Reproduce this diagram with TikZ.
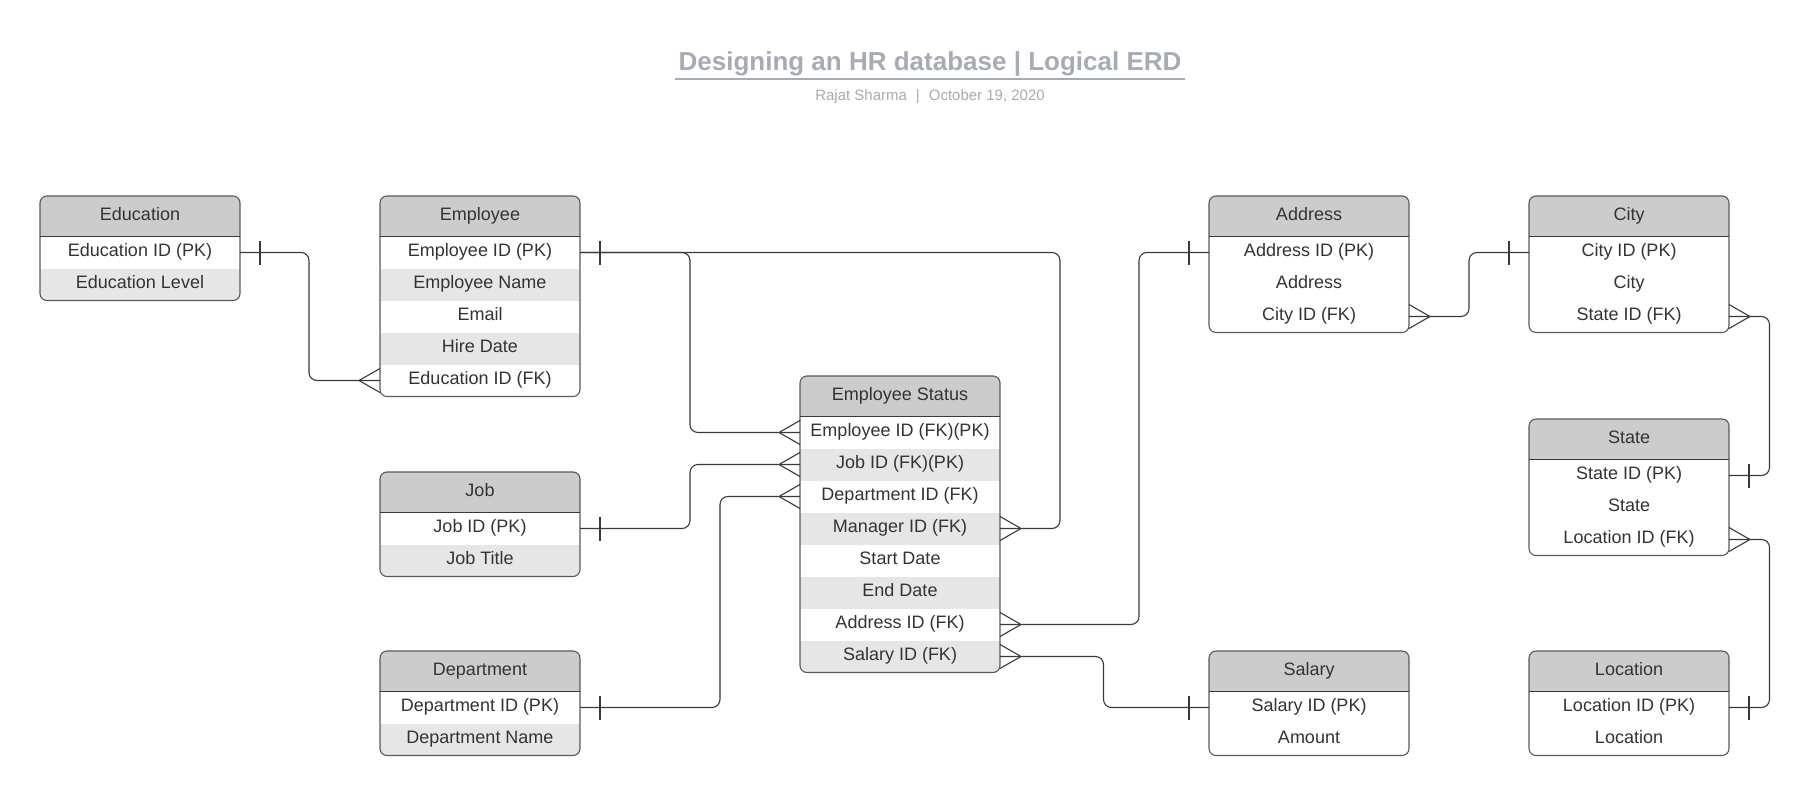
\documentclass[tikz,border=0pt]{standalone}
\usepackage{fontspec}
\setmainfont{Liberation Sans}
\usetikzlibrary{calc}
\definecolor{hdrgray}{HTML}{CCCCCC}
\definecolor{altgray}{HTML}{E6E6E6}
\definecolor{txt}{HTML}{333333}
\definecolor{edgec}{HTML}{5A5A5A}
\definecolor{linec}{HTML}{3A3A3A}
\definecolor{titlec}{HTML}{A7ABB4}
\tikzset{
  hdr/.style={anchor=north west, minimum width=200pt, minimum height=40.5pt, inner sep=0pt, outer sep=0pt, fill=hdrgray, text=txt, text height=13pt, text depth=4.5pt, font=\fontsize{18}{20}\selectfont},
  rowbox/.style={anchor=north west, minimum width=200pt, minimum height=32pt, inner sep=0pt, outer sep=0pt, text=txt, text height=13pt, text depth=5.5pt, font=\fontsize{18}{20}\selectfont},
  border/.style={draw=edgec, line width=1.1pt, rounded corners=7pt},
  sep/.style={draw=linec, line width=1.1pt},
  conn/.style={draw=linec, line width=1.1pt, rounded corners=8pt},
  tick/.style={draw=linec, line width=1.1pt},
  titlest/.style={text=titlec, font=\fontsize{26}{30}\selectfont\bfseries, inner sep=0pt},
  subst/.style={text=titlec, font=\fontsize{15}{18}\selectfont, inner sep=0pt},
}
\newcommand\entity[6]{% name, x, y, nrows, title, rows
  \begin{scope}
    \clip[rounded corners=7pt] (#2,#3) rectangle ++(200,{40.5+#4*32});
    \node[hdr] (#1) at (#2,#3) {#5};
    \foreach \t/\f [count=\i] in {#6} {
      \node[rowbox, fill=\f] (#1-\i) at (#2,{#3+40.5+(\i-1)*32}) {\t};
    }
  \end{scope}
  \draw[border] (#2,#3) rectangle ++(200,{40.5+#4*32});
  \draw[sep] (#1.south west) -- (#1.south east);
}
\newcommand\one[2]{\draw[tick] ([xshift=#2*20pt, yshift=-12pt]#1) -- ([xshift=#2*20pt, yshift=12pt]#1);}
\newcommand\many[2]{\draw[tick] ([yshift=12pt]#1) -- ([xshift=#2*21pt]#1) -- ([yshift=-12pt]#1);}
\begin{document}
\begin{tikzpicture}[x=1pt, y=-1pt]
\useasboundingbox (0,0) rectangle (1810,795);
\fill[white] (0,0) rectangle (1810,795);

\node[titlest, anchor=base] (title) at (930,70) {Designing an HR database | Logical ERD};
\draw[titlec, line width=1.6pt] ([xshift=-3pt, yshift=-9pt]title.base west) -- ([xshift=3pt, yshift=-9pt]title.base east);
\node[subst, anchor=base] (sub) at (930,100) {Rajat Sharma\hspace{9pt}|\hspace{9pt}October 19, 2020};

\entity{edu}{40}{196}{2}{Education}{Education ID (PK)/white, Education Level/altgray}
\entity{emp}{380}{196}{5}{Employee}{Employee ID (PK)/white, Employee Name/altgray, Email/white, Hire Date/altgray, Education ID (FK)/white}
\entity{job}{380}{472}{2}{Job}{Job ID (PK)/white, Job Title/altgray}
\entity{dep}{380}{651}{2}{Department}{Department ID (PK)/white, Department Name/altgray}
\entity{es}{800}{376}{8}{Employee Status}{Employee ID (FK)(PK)/white, Job ID (FK)(PK)/altgray, Department ID (FK)/white, Manager ID (FK)/altgray, Start Date/white, End Date/altgray, Address ID (FK)/white, Salary ID (FK)/altgray}
\entity{addr}{1209}{196}{3}{Address}{Address ID (PK)/white, Address/white, City ID (FK)/white}
\entity{city}{1529}{196}{3}{City}{City ID (PK)/white, City/white, State ID (FK)/white}
\entity{st}{1529}{419}{3}{State}{State ID (PK)/white, State/white, Location ID (FK)/white}
\entity{sal}{1209}{651}{2}{Salary}{Salary ID (PK)/white, Amount/white}
\entity{loc}{1529}{651}{2}{Location}{Location ID (PK)/white, Location/white}

\coordinate (c1) at (309,0);
\coordinate (c2) at (690,0);
\coordinate (c3) at (1060,0);
\coordinate (c4) at (720,0);
\coordinate (c5) at (1139,0);
\coordinate (c6) at (1103.5,0);
\coordinate (c7) at (1469,0);
\coordinate (c8) at (1769.5,0);

\draw[conn] (edu-1.east) -| (c1 |- emp-5.west) -- (emp-5.west);
\one{edu-1.east}{1} \many{emp-5.west}{-1}

\draw[conn] (emp-1.east) -| (c2 |- es-1.west) -- (es-1.west);
\one{emp-1.east}{1} \many{es-1.west}{-1}

\draw[conn] (emp-1.east) -| (c3 |- es-4.east) -- (es-4.east);
\many{es-4.east}{1}

\draw[conn] (job-1.east) -| (c2 |- es-2.west) -- (es-2.west);
\one{job-1.east}{1} \many{es-2.west}{-1}

\draw[conn] (dep-1.east) -| (c4 |- es-3.west) -- (es-3.west);
\one{dep-1.east}{1} \many{es-3.west}{-1}

\draw[conn] (es-7.east) -| (c5 |- addr-1.west) -- (addr-1.west);
\many{es-7.east}{1} \one{addr-1.west}{-1}

\draw[conn] (es-8.east) -| (c6 |- sal-1.west) -- (sal-1.west);
\many{es-8.east}{1} \one{sal-1.west}{-1}

\draw[conn] (addr-3.east) -| (c7 |- city-1.west) -- (city-1.west);
\many{addr-3.east}{1} \one{city-1.west}{-1}

\draw[conn] (city-3.east) -| (c8 |- st-1.east) -- (st-1.east);
\many{city-3.east}{1} \one{st-1.east}{1}

\draw[conn] (st-3.east) -| (c8 |- loc-1.east) -- (loc-1.east);
\many{st-3.east}{1} \one{loc-1.east}{1}
\end{tikzpicture}
\end{document}
